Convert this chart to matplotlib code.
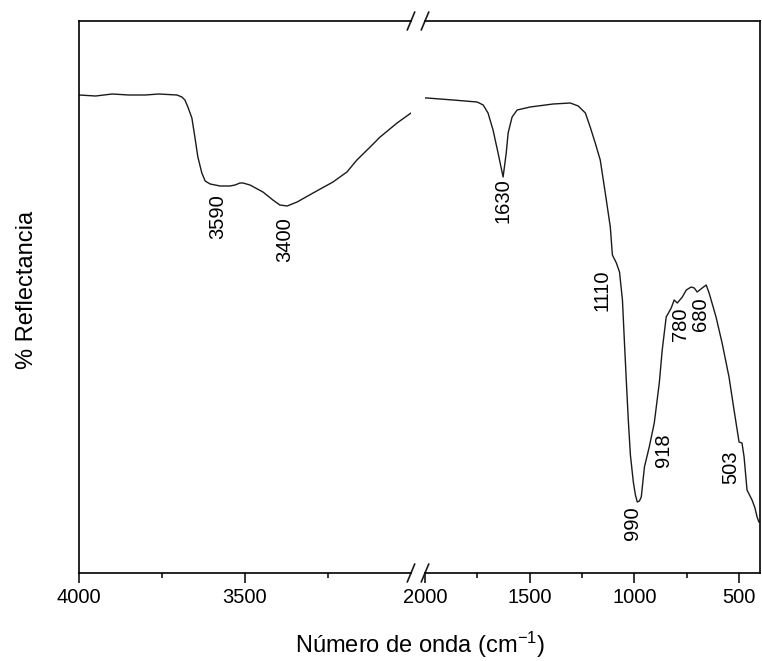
import numpy as np
import matplotlib.pyplot as plt

plt.rcParams['font.family'] = ['Liberation Sans', 'DejaVu Sans']
plt.rcParams['mathtext.default'] = 'regular'

# IR spectrum (arbitrary reflectance units)
wn_hi = [4000, 3950, 3900, 3850, 3800, 3760, 3705, 3690, 3681, 3672, 3660, 3651,
         3642, 3630, 3620, 3605, 3575, 3545, 3530, 3515, 3506, 3485, 3446, 3416,
         3395, 3373, 3343, 3295, 3235, 3193, 3163, 3123, 3093, 3042, 3000]
r_hi = [478, 477, 479, 478, 478, 479, 478, 476, 473, 466, 455, 436,
        416, 400, 392, 389, 387, 387, 388, 390, 390, 388, 381, 373,
        368, 367, 371, 380, 391, 401, 413, 426, 436, 450, 460]

wn_lo = [2000, 1990, 1866, 1751, 1722, 1699, 1675, 1651, 1627, 1612, 1603, 1584,
         1560, 1498, 1388, 1306, 1268, 1234, 1211, 1187, 1163, 1139, 1115, 1105,
         1086, 1071, 1057, 1048, 1038, 1029, 1019, 1005, 995, 986, 976, 967, 952,
         929, 905, 881, 867, 848, 824, 810, 795, 771, 752, 729, 714, 700, 676,
         657, 643, 610, 581, 548, 524, 500, 486, 476, 462, 438, 424, 414, 405]
r_lo = [475, 475, 473, 471, 468, 460, 443, 420, 396, 420, 440, 456,
        463, 466, 469, 470, 467, 460, 446, 430, 413, 380, 346, 318,
        310, 301, 273, 233, 190, 153, 118, 91, 78, 71, 72, 76, 106,
        126, 150, 190, 223, 256, 265, 273, 270, 276, 283, 286, 285, 281, 285,
        288, 280, 256, 230, 196, 163, 131, 130, 116, 83, 73, 65, 56, 51]

# band labels: text, x position, y position
labels_hi = [('3590', 3581, 356), ('3400', 3380, 333)]
labels_lo = [('1630', 1627, 372), ('1110', 1153, 283), ('990', 1010, 50),
             ('918', 861, 123), ('780', 780, 249), ('680', 684, 259),
             ('503', 541, 106)]

W, H = 762, 661
fig = plt.figure(figsize=(W / 100, H / 100), dpi=100)
bot = 1 - 573 / H
hgt = (573 - 21) / H
ax1 = fig.add_axes([79 / W, bot, 332 / W, hgt])
ax2 = fig.add_axes([425 / W, bot, 335 / W, hgt])

for ax, wn, r, lab in [(ax1, wn_hi, r_hi, labels_hi), (ax2, wn_lo, r_lo, labels_lo)]:
    ax.plot(wn, r, color='#1a1a1a', lw=1.0)
    ax.set_ylim(0, 552)
    ax.set_yticks([])
    for t, x, y in lab:
        ax.text(x, y, t, rotation=90, ha='center', va='center', fontsize=14.5)
    ax.tick_params(axis='x', which='major', direction='out', length=7, width=1.1,
                   labelsize=14.5, pad=4)
    ax.tick_params(axis='x', which='minor', direction='out', length=3.5, width=1.1)
    for s in ax.spines.values():
        s.set_linewidth(1.2)

ax1.set_xlim(4000, 3000)
ax1.set_xticks([4000, 3500])
ax1.set_xticks([3750, 3250], minor=True)
ax1.spines['right'].set_visible(False)

ax2.set_xlim(2000, 400)
ax2.set_xticks([2000, 1500, 1000, 500])
ax2.set_xticks([1750, 1250, 750], minor=True)
ax2.spines['left'].set_visible(False)

# break marks
dx, dy = 0.011, 0.016
for ax, xb in [(ax1, 1.0), (ax2, 0.0)]:
    for yb in [0.0, 1.0]:
        ax.plot([xb - dx, xb + dx], [yb - dy, yb + dy], transform=ax.transAxes,
                color='#1a1a1a', lw=1.2, clip_on=False)

fig.text(420 / W, 1 - 645 / H, 'Número de onda (cm$^{-1}$)', ha='center', va='center',
         fontsize=17)
fig.text(27 / W, 1 - 290 / H, '% Reflectancia', rotation=90, ha='center', va='center',
         fontsize=17)

fig.savefig('out.png', dpi=100)
